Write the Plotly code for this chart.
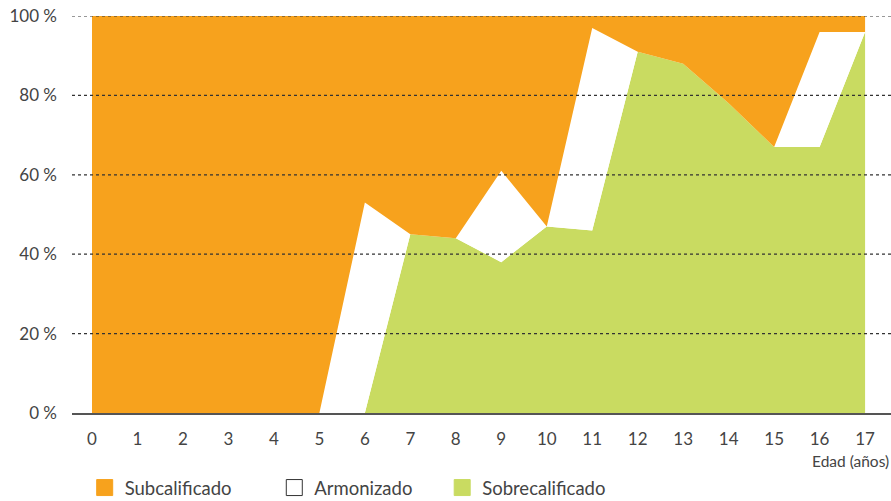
import plotly.graph_objects as go

edad = list(range(18))
tick_labels = [str(v) for v in edad]
sobrecalificado = [0, 0, 0, 0, 0, 0, 0, 45, 44, 38, 47, 46, 91, 88, 78, 67, 67, 96]
armonizado = [0, 0, 0, 0, 0, 0, 53, 0, 0, 23, 0, 51, 0, 0, 0, 0, 29, 0]
subcalificado = [100, 100, 100, 100, 100, 100, 47, 55, 56, 39, 53, 3, 9, 12, 22, 33, 4, 4]
y_ticks = [0, 20, 40, 60, 80, 100]
y_tick_labels = ["0 %", "20 %", "40 %", "60 %", "80 %", "100 %"]

ORANGE = "#F7A21D"
GREEN = "#C9DB61"
TEXT = "#444444"
FONT = "Lato"

fig = go.Figure()
for name, vals, col in [("Sobrecalificado", sobrecalificado, GREEN),
                        ("Armonizado", armonizado, "#FFFFFF"),
                        ("Subcalificado", subcalificado, ORANGE)]:
    fig.add_trace(go.Scatter(x=edad, y=vals, mode="lines", stackgroup="one",
                             line=dict(width=0, color=col), fillcolor=col,
                             showlegend=False, hoverinfo="skip"))

legend_items = [("Subcalificado", ORANGE, ORANGE, "legend"),
                ("Armonizado", "#FFFFFF", "#333333", "legend2"),
                ("Sobrecalificado", GREEN, GREEN, "legend3")]
for name, col, lc, lg in legend_items:
    fig.add_trace(go.Scatter(x=[None], y=[None], mode="markers", name=name,
                             marker=dict(symbol="square", size=18, color=col,
                                         line=dict(color=lc, width=1)),
                             legend=lg, showlegend=True))

for yv in y_ticks[1:]:
    fig.add_shape(type="line", xref="paper", x0=0, x1=1, yref="y", y0=yv, y1=yv,
                  line=dict(color="#333333", width=1.2, dash="dot"), layer="above")

leg_common = dict(orientation="h", yanchor="middle", y=-0.189, xanchor="left",
                  font=dict(family=FONT, size=18.5, color=TEXT),
                  bgcolor="rgba(0,0,0,0)", itemwidth=30)
fig.update_layout(
    width=891, height=501,
    margin=dict(l=72, r=0, t=16, b=88, autoexpand=False),
    paper_bgcolor="white", plot_bgcolor="white",
    font=dict(family=FONT, color=TEXT),
    legend=dict(x=0.0155, **leg_common),
    legend2=dict(x=0.247, **leg_common),
    legend3=dict(x=0.452, **leg_common),
    xaxis=dict(range=[-0.44, 17.57], tickmode="array", tickvals=edad, ticktext=tick_labels,
               showgrid=False, zeroline=False, showline=True, linecolor="#555555",
               linewidth=2, layer="above traces", ticks="", ticklabelstandoff=10,
               automargin=False, tickfont=dict(family=FONT, size=17, color=TEXT)),
    yaxis=dict(range=[0, 100], tickmode="array", tickvals=y_ticks, ticktext=y_tick_labels,
               showgrid=False, zeroline=False, ticks="", ticklabelstandoff=14,
               automargin=False, tickfont=dict(family=FONT, size=17, color=TEXT)),
    annotations=[dict(text="Edad (años)", xref="paper", yref="paper", x=1, y=-0.121,
                      xanchor="right", yanchor="middle", showarrow=False,
                      font=dict(family=FONT, size=15.5, color=TEXT))],
)
fig.write_html("out.html", config={"displayModeBar": False},
               post_script="document.body.style.margin='0';document.body.style.padding='0';")
